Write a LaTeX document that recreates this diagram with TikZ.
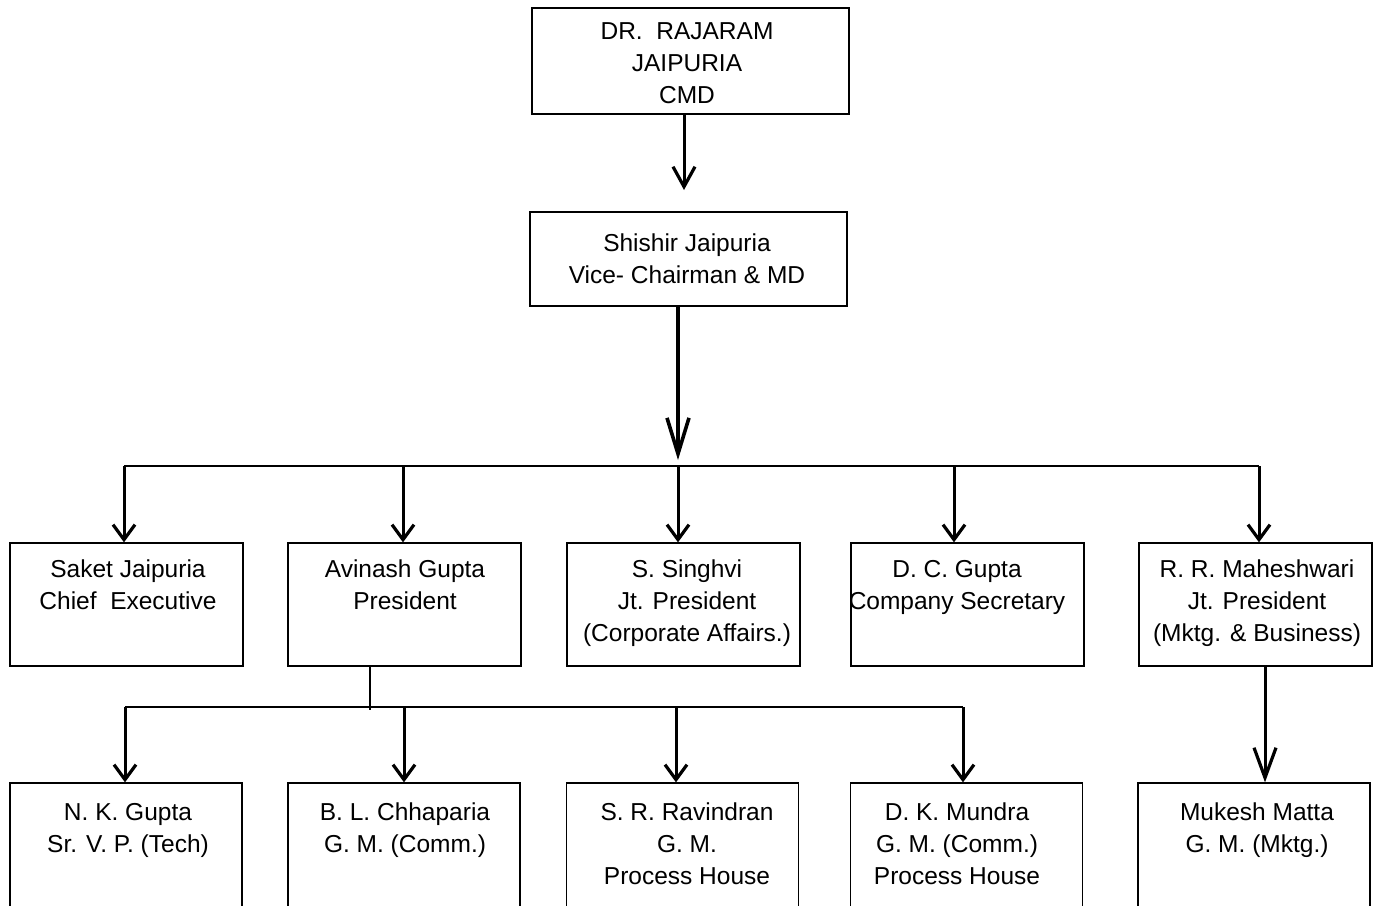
\documentclass[tikz,border=0pt]{standalone}
\usepackage{fontspec}
\setmainfont{Liberation Sans}
\usetikzlibrary{arrows.meta}
\begin{document}
\begin{tikzpicture}[x=1pt,y=-1pt,
 box/.style={draw, line width=1.3pt, inner sep=0pt},
 lbl/.style={font=\fontsize{24.5}{32}\selectfont, align=center, anchor=base, inner sep=0pt},
 arr/.style={line width=3pt, -{Straight Barb[length=15pt,width=22pt,line width=3.2pt]}},
 thinline/.style={line width=1.3pt}]
\clip (0,0) rectangle (1378,905);
\fill[white] (0,0) rectangle (1378,905);
% boxes
\node[box, minimum width=317pt, minimum height=106pt] (cmd) at (690.5,61) {};
\node[box, minimum width=317pt, minimum height=94pt] (vc) at (688.5,259) {};
\foreach \n/\x in {saket/126.5, avin/404.5, singh/683.5, dcg/967.5, rrm/1255.5}
  \node[box, minimum width=233pt, minimum height=123pt] (\n) at (\x,604.5) {};
\foreach \n/\x in {nkg/126, blc/404, srr/682.5, dkm/966.5, mkm/1254}
  \node[box, minimum width=232pt, minimum height=217pt] (\n) at (\x,891.5) {};
% texts (anchor = baseline of the last line)
\node[lbl] (tcmd) at (687,103.5) {DR.\ \ RAJARAM\\JAIPURIA\\CMD};
\node[lbl] (tvc) at (687,283.5) {Shishir Jaipuria\\Vice- Chairman \& MD};
\node[lbl] (tsaket) at (128,609.5) {Saket Jaipuria\\Chief\ \ Executive};
\node[lbl] (tavin) at (405,609.5) {Avinash Gupta\\President};
\node[lbl] (tsingh) at (687,641.5) {S. Singhvi\\Jt. President\\(Corporate Affairs.)};
\node[lbl] (tdcg) at (957,609.5) {D. C. Gupta\\Company Secretary};
\node[lbl] (trrm) at (1257,641.5) {R. R. Maheshwari\\Jt. President\\(Mktg. \& Business)};
\node[lbl] (tnkg) at (128,852.5) {N. K. Gupta\\Sr. V. P. (Tech)};
\node[lbl] (tblc) at (405,852.5) {B. L. Chhaparia\\G. M. (Comm.)};
\node[lbl] (tsrr) at (687,884.5) {S. R. Ravindran\\G. M.\\Process House};
\node[lbl] (tdkm) at (957,884.5) {D. K. Mundra\\G. M. (Comm.)\\Process House};
\node[lbl] (tmkm) at (1257,852.5) {Mukesh Matta\\G. M. (Mktg.)};
% connectors
\coordinate (a1e) at (684,190);
\draw[arr, -{Straight Barb[length=20pt,width=22pt,line width=3.2pt]}] (a1e |- cmd.south) -- (a1e);
\coordinate (jn) at (678,460);
\draw[arr, line width=4pt, -{Straight Barb[length=36pt,width=22pt,line width=3.6pt]}] (jn |- vc.south) -- (jn);
\coordinate (d1) at (124,466);
\coordinate (d2) at (403,466);
\coordinate (d3) at (678,466);
\coordinate (d4) at (954,466);
\coordinate (d5) at (1259,466);
\draw[thinline] (d1) -- (d5);
\draw[arr] (d1) -- (d1 |- saket.north);
\draw[arr] (d2) -- (d2 |- avin.north);
\draw[arr] (d3) -- (d3 |- singh.north);
\draw[arr] (d4) -- (d4 |- dcg.north);
\draw[arr] (d5) -- (d5 |- rrm.north);
\coordinate (avj) at (370,710);
\draw[thinline] (avj |- avin.south) -- (avj);
\coordinate (e1) at (125,707);
\coordinate (e2) at (404,707);
\coordinate (e3) at (676,707);
\coordinate (e4) at (963,707);
\draw[thinline] (e1) -- (e4);
\draw[arr] (e1) -- (e1 |- nkg.north);
\draw[arr] (e2) -- (e2 |- blc.north);
\draw[arr] (e3) -- (e3 |- srr.north);
\draw[arr] (e4) -- (e4 |- dkm.north);
\coordinate (m1) at (1265,0);
\draw[arr, -{Straight Barb[length=30pt,width=22pt,line width=3.2pt]}] (m1 |- rrm.south) -- (m1 |- mkm.north);
\end{tikzpicture}
\end{document}
